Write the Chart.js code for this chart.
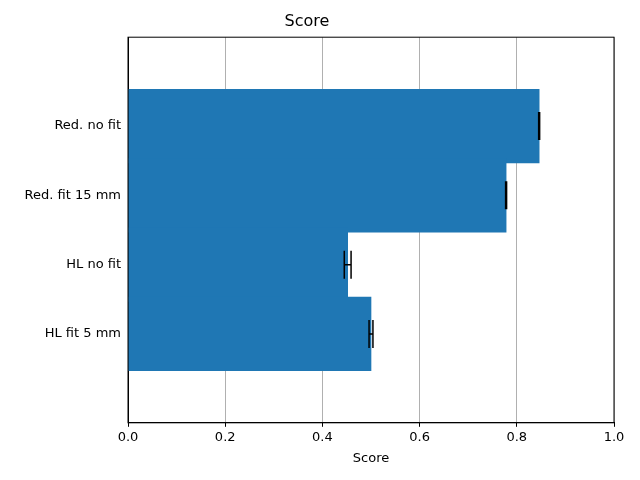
<!DOCTYPE html>
<html>
<head>
<script src="https://cdn.jsdelivr.net/npm/chart.js@4"></script>
<style>body{margin:0;background:#fff}</style>
</head>
<body>
<canvas id="c" width="640" height="480"></canvas>
<script>
const labels = ['Red. no fit', 'Red. fit 15 mm', 'HL no fit', 'HL fit 5 mm'];
const positions = [0, 1, 2, 3];
const scores = [0.846, 0.778, 0.452, 0.5];
const errors = [0.001, 0.001, 0.007, 0.004];

const errorBars = {
  id: 'errorBars',
  afterDatasetsDraw(chart) {
    const ctx = chart.ctx, x = chart.scales.x, y = chart.scales.y;
    ctx.save();
    ctx.strokeStyle = '#000';
    ctx.lineWidth = 1.5;
    scores.forEach((v, i) => {
      const yc = y.getPixelForValue(positions[i]);
      const x0 = x.getPixelForValue(v - errors[i]);
      const x1 = x.getPixelForValue(v + errors[i]);
      ctx.beginPath();
      ctx.moveTo(x0, yc); ctx.lineTo(x1, yc);
      ctx.moveTo(x0, yc - 14); ctx.lineTo(x0, yc + 14);
      ctx.moveTo(x1, yc - 14); ctx.lineTo(x1, yc + 14);
      ctx.stroke();
    });
    ctx.restore();
  }
};

const font = { family: 'DejaVu Sans', size: 13 };
new Chart(document.getElementById('c'), {
  type: 'bar',
  data: {
    datasets: [{
      data: positions.map((p, i) => ({ y: p, x: scores[i] })),
      backgroundColor: '#1f77b4', barThickness: 73.5
    }]
  },
  options: {
    indexAxis: 'y',
    responsive: false,
    animation: false,
    layout: { padding: { left: 0, right: 26, top: 0, bottom: 10 } },
    plugins: {
      legend: { display: false },
      tooltip: { enabled: false },
      title: { display: true, text: 'Score', color: '#000', font: { family: 'DejaVu Sans', size: 16, weight: 'normal' }, padding: { top: 12, bottom: 6 } }
    },
    scales: {
      x: {
        type: 'linear', min: 0, max: 1,
        ticks: { stepSize: 0.2, color: '#000', font: font, callback: v => v.toFixed(1) },
        grid: { color: '#b0b0b0', drawTicks: true, tickColor: '#000', tickLength: 4 },
        border: { color: '#000' },
        title: { display: true, text: 'Score', color: '#000', font: font, padding: { top: 2 } }
      },
      y: {
        type: 'linear', reverse: true, min: -0.587, max: 3.587,
        afterFit: s => { s.width = 128; },
        afterBuildTicks: s => { s.ticks = positions.map(p => ({ value: p })); },
        ticks: { color: '#000', font: font, callback: v => labels[v] },
        grid: { display: false, drawTicks: true, tickLength: 4 },
        border: { color: '#000' }
      }
    }
  },
  plugins: [errorBars, {
    id: 'frame',
    afterDraw(chart) {
      const a = chart.chartArea, ctx = chart.ctx;
      ctx.save(); ctx.strokeStyle = '#000'; ctx.lineWidth = 1;
      ctx.strokeRect(a.left, a.top, a.right - a.left, a.bottom - a.top);
      ctx.restore();
    }
  }]
});
</script>
</body>
</html>
